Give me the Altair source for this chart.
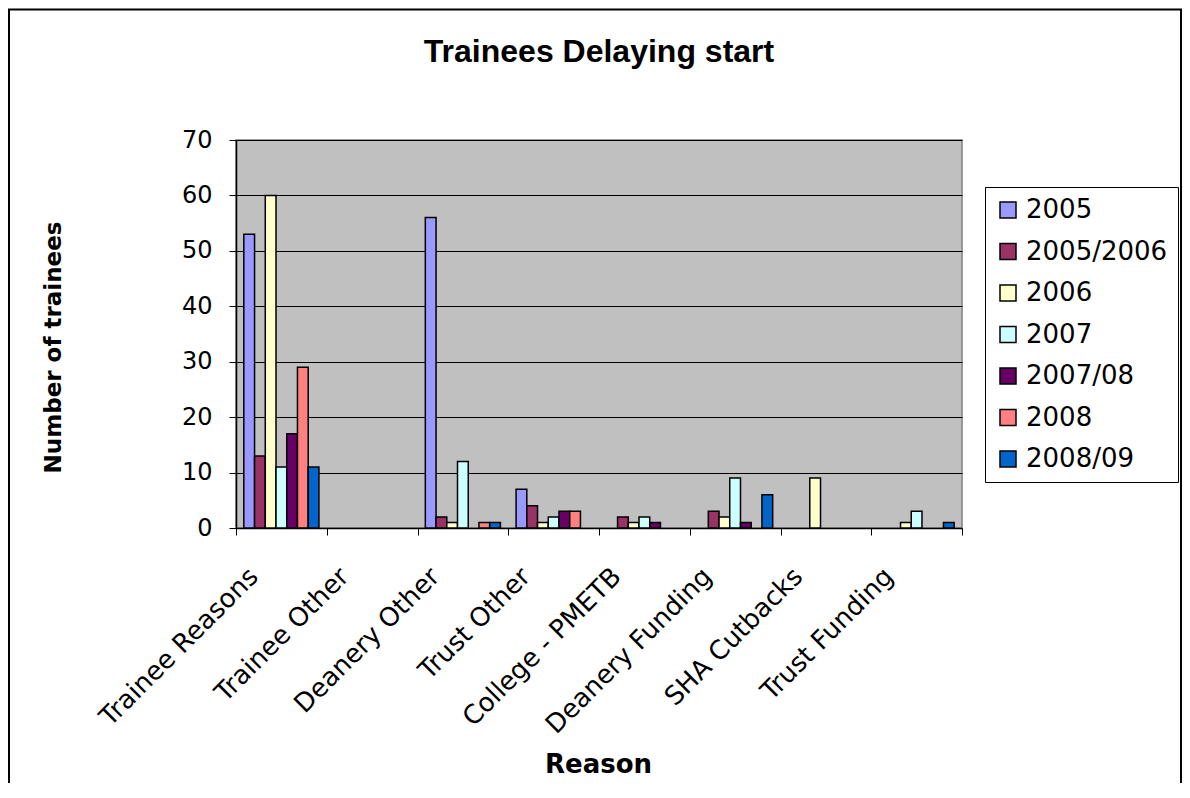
import altair as alt
import pandas as pd

reasons = ["Trainee Reasons", "Trainee Other", "Deanery Other", "Trust Other",
           "College - PMETB", "Deanery Funding", "SHA Cutbacks", "Trust Funding"]
years = ["2005", "2005/2006", "2006", "2007", "2007/08", "2008", "2008/09"]
colors = ["#9999FF", "#993366", "#FFFFCC", "#CCFFFF", "#660066", "#FF8080", "#0066CC"]

v2005 = [53, 0, 56, 7, 0, 0, 0, 0]
v2005_2006 = [13, 0, 2, 4, 2, 3, 0, 0]
v2006 = [60, 0, 1, 1, 1, 2, 9, 1]
v2007 = [11, 0, 12, 2, 2, 9, 0, 3]
v2007_08 = [17, 0, 0, 3, 1, 1, 0, 0]
v2008 = [29, 0, 1, 3, 0, 0, 0, 0]
v2008_09 = [11, 0, 1, 0, 0, 6, 0, 1]

series = [v2005, v2005_2006, v2006, v2007, v2007_08, v2008, v2008_09]
rows = []
for y, vals in zip(years, series):
    for r, v in zip(reasons, vals):
        rows.append({"Reason": r, "Year": y, "Count": v})
df = pd.DataFrame(rows)

PLOT_W, PLOT_H = 726, 388
PAD_L, PAD_T = 228, 132
TOTAL_W, TOTAL_H = 1174, 775

bars = alt.Chart(df).transform_filter("datum.Count > 0").mark_bar(
    stroke="black", strokeWidth=1.5, opacity=1
).encode(
    x=alt.X("Reason:N", sort=reasons,
            scale=alt.Scale(domain=reasons, paddingInner=0, paddingOuter=0),
            axis=alt.Axis(title="Reason", labelAngle=-45, labelAlign="right",
                          labelBaseline="middle", labelFont="DejaVu Sans",
                          labelFontSize=26, labelColor="black", labelPadding=37,
                          labelOffset=-28,
                          labelOverlap=False, labelLimit=400,
                          tickBand="extent", tickSize=7, tickColor="black",
                          domainColor="black", domainWidth=1.5,
                          titleFont="DejaVu Sans", titleFontSize=26,
                          titleFontWeight="bold", titleColor="black",
                          titleX=362, titleY=236, titleAlign="center",
                          titleBaseline="middle")),
    xOffset=alt.XOffset("Year:N", sort=years,
                        scale=alt.Scale(domain=years, paddingInner=0, paddingOuter=0.73)),
    y=alt.Y("Count:Q", scale=alt.Scale(domain=[0, 70], nice=False),
            axis=alt.Axis(title="Number of trainees", values=list(range(0, 71, 10)),
                          labelFont="DejaVu Sans", labelFontSize=24,
                          labelColor="black", labelPadding=17,
                          tickSize=7, tickColor="black",
                          domainColor="black", domainWidth=1.5,
                          grid=True, gridColor="black", gridWidth=1,
                          titleFont="DejaVu Sans", titleFontSize=23,
                          titleFontWeight="bold", titleColor="black",
                          titleAngle=-90, titleX=-183, titleY=207,
                          titleAlign="center", titleBaseline="middle")),
    color=alt.Color("Year:N", sort=years,
                    scale=alt.Scale(domain=years, range=colors),
                    legend=alt.Legend(title=None, orient="none", legendX=749, legendY=47,
                                      symbolType="square", symbolSize=256,
                                      symbolStrokeColor="black", symbolStrokeWidth=1.5,
                                      labelFont="DejaVu Sans", labelFontSize=26,
                                      labelColor="black", labelOffset=5,
                                      rowPadding=15.5, padding=10,
                                      strokeColor="black", fillColor="white")),
)

frame = alt.Chart(pd.DataFrame({"frame": [1]})).mark_rect(
    fillOpacity=0, stroke="black", strokeWidth=2
).encode(
    x=alt.value(-227), x2=alt.value(945),
    y=alt.value(-130.5), y2=alt.value(700),
)

chart = alt.layer(frame, bars).properties(
    width=PLOT_W, height=PLOT_H,
    title=alt.Title("Trainees Delaying start", font="Liberation Sans", fontSize=32,
                    fontWeight="bold", color="black", anchor="middle", frame="group",
                    baseline="alphabetic", offset=-85),
    autosize=alt.AutoSizeParams(type="none"),
    padding={"left": PAD_L, "top": PAD_T,
             "right": TOTAL_W - PAD_L - PLOT_W, "bottom": TOTAL_H - PAD_T - PLOT_H},
    background="white",
).configure_view(
    fill="#C0C0C0", stroke="#808080", strokeWidth=1.5
)

chart.save("out.html", embed_options={"renderer": "svg", "actions": False})
